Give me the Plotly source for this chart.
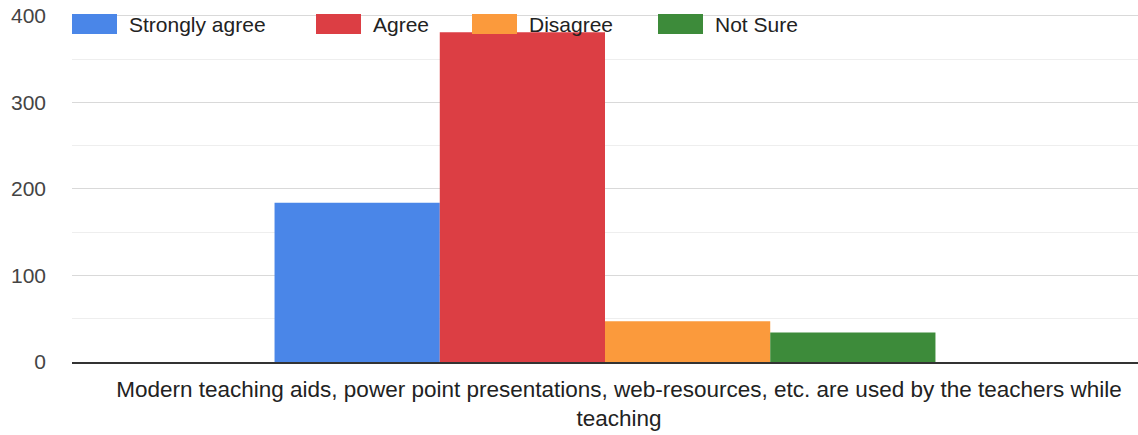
import plotly.graph_objects as go

categories = ["Modern teaching aids, power point presentations, web-resources, etc. are used by the teachers while<br>teaching"]
series_names = ["Strongly agree", "Agree", "Disagree", "Not Sure"]
series_values = [[184], [381], [47], [34]]
series_colors = ["#4a86e8", "#dc3e44", "#fb9a3c", "#3d8b3a"]
y_ticks = [0, 100, 200, 300, 400]
y_max = 402

# legend layout (pixel positions of swatches' left edges)
legend_px = [72, 316, 472, 658]

W, H = 1138, 435
ML, MR, MT, MB = 72, 0, 14, 73
PW, PH = W - ML - MR, H - MT - MB

fig = go.Figure()
for name, vals, col in zip(series_names, series_values, series_colors):
    fig.add_trace(go.Bar(x=categories, y=vals, name=name, marker=dict(color=col, line=dict(width=0))))

def px2x(p):
    return (p - ML) / PW

def py2y(p):
    return (H - MB - p) / PH

for name, col, lx in zip(series_names, series_colors, legend_px):
    fig.add_shape(type="rect", xref="paper", yref="paper",
                  x0=px2x(lx), x1=px2x(lx + 45), y0=py2y(34), y1=py2y(14),
                  fillcolor=col, line=dict(width=0), layer="above")
    fig.add_annotation(xref="paper", yref="paper", x=px2x(lx + 55), y=py2y(24),
                       text=name, showarrow=False, xanchor="left", yanchor="middle",
                       font=dict(size=21, color="#222"))

fig.update_layout(
    width=W, height=H,
    margin=dict(l=ML, r=MR, t=MT, b=MB, autoexpand=False),
    paper_bgcolor="white", plot_bgcolor="white",
    barmode="group", bargap=0.38, bargroupgap=0.0,
    font=dict(family="Liberation Sans, Arial, sans-serif", size=20, color="#444"),
    showlegend=False,
)
fig.update_yaxes(range=[0, y_max], tickvals=y_ticks, showgrid=True, gridcolor="#d9d9d9", gridwidth=1,
                 zeroline=False, ticklabelstandoff=25, tickfont=dict(size=21, color="#444"),
                 ticklabeloverflow="allow",
                 minor=dict(dtick=50, showgrid=True, gridcolor="#eeeeee", gridwidth=1))
fig.update_xaxes(showline=True, linecolor="#333", linewidth=2, tickfont=dict(size=22.5, color="#222"),
                 ticks="", automargin=False, ticklabelstandoff=6, ticklabelshift=14)

fig.write_html("out.html", config={"displayModeBar": False},
               post_script="document.body.style.margin='0';")
